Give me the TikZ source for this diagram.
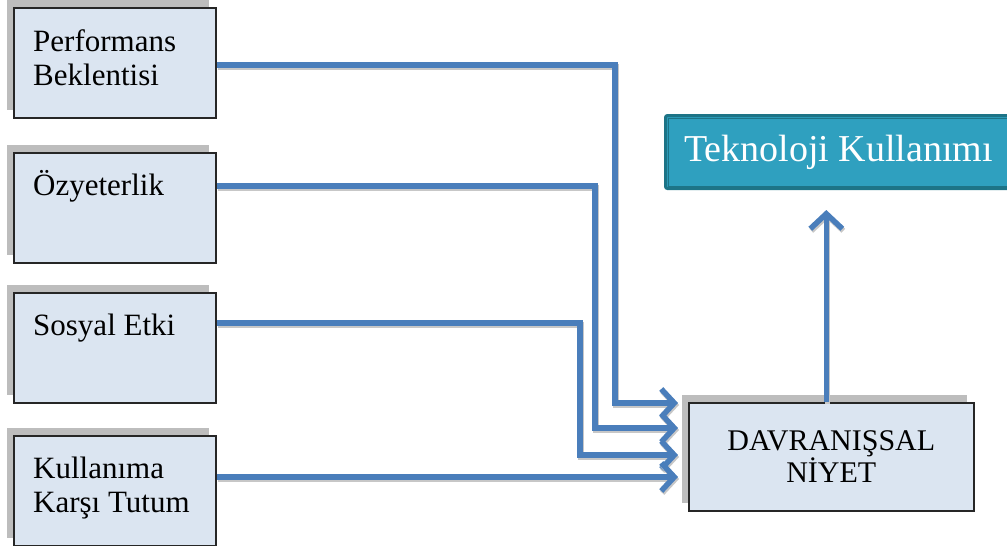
\documentclass[tikz,border=0pt]{standalone}
\usepackage{fontspec}
\setmainfont{Liberation Serif}
\usetikzlibrary{calc,shadows,arrows.meta}
\definecolor{boxfill}{HTML}{DBE5F1}
\definecolor{conncol}{HTML}{4A7EBB}
\definecolor{tealfill}{HTML}{2FA0BF}
\definecolor{tealdark}{HTML}{1D7487}
\definecolor{shadowgray}{HTML}{BDBDBD}
\begin{document}
\begin{tikzpicture}[x=1pt,y=-1pt,
  factor/.style={draw=black!85, line width=1.6pt, fill=boxfill,
    minimum width=202pt, minimum height=110pt, inner sep=0pt, anchor=north west,
    general shadow={fill=shadowgray, shadow xshift=-7pt, shadow yshift=8pt}},
  lbl/.style={anchor=base west, inner sep=0pt, font=\fontsize{31}{34}\selectfont},
  conn/.style={draw=conncol, line width=5.5pt, line join=miter,
    -{Straight Barb[length=13pt,width=28pt]},
    preaction={draw=black!22, line width=5.5pt, transform canvas={xshift=1pt,yshift=-2pt}}},
]
\useasboundingbox (0,0) rectangle (1007,546);
\clip (0,0) rectangle (1007,546);

% left factor boxes
\node[factor] (pb) at (13,7) {};
\node[lbl] (pbt) at ($(pb.north west)+(20,44)$) {\parbox[t]{180pt}{Performans\\Beklentisi}};
\node[factor] (oz) at (13,152) {};
\node[lbl] (ozt) at ($(oz.north west)+(20,43)$) {\parbox[t]{180pt}{Özyeterlik}};
\node[factor] (se) at (13,292) {};
\node[lbl] (set) at ($(se.north west)+(20,43)$) {\parbox[t]{180pt}{Sosyal Etki}};
\node[factor] (kt) at (13,435) {};
\node[lbl] (ktt) at ($(kt.north west)+(20,43)$) {\parbox[t]{180pt}{Kullanıma\\Karşı Tutum}};

% target box
\node[factor, minimum width=285pt, minimum height=108pt, align=center,
  font=\fontsize{30}{32}\selectfont] (dn) at (688,402) {DAVRANIŞSAL\\NİYET};

% outcome box
\node[draw=tealdark, line width=3pt, fill=tealfill, rounded corners=2pt,
  minimum width=346pt, minimum height=73pt, anchor=north west, inner sep=0pt,
  text=white, font=\fontsize{38}{40}\selectfont] (tk) at (664,114) {Teknoloji Kullanımı};
\draw[tealdark, line width=1pt] ($(tk.north west)+(4,4)$) rectangle ($(tk.south east)+(-4,-4)$);

% connector end points
\coordinate (s1) at ($(pb.north east)+(0,58)$);
\coordinate (s2) at ($(oz.north east)+(0,34)$);
\coordinate (s3) at ($(se.north east)+(0,31)$);
\coordinate (s4) at ($(kt.north east)+(0,42)$);
\coordinate (t1) at ($(dn.north west)+(-10,1)$);
\coordinate (t2) at ($(dn.north west)+(-10,26)$);
\coordinate (t3) at ($(dn.north west)+(-10,53)$);
\coordinate (t4) at ($(dn.north west)+(-10,75)$);

\draw[conn] (s1) -| ($(t1)+(-63,0)$) -- (t1);
\draw[conn] (s2) -| ($(t2)+(-83,0)$) -- (t2);
\draw[conn] (s3) -| ($(t3)+(-98,0)$) -- (t3);
\draw[conn] (s4) -- (t4);

\coordinate (u0) at ($(dn.north)+(-5,0)$);
\coordinate (u1) at ($(u0 |- tk.south)+(0,20)$);
\draw[conn, -{Straight Barb[length=15pt,width=32pt]}] (u0) -- (u1);
\end{tikzpicture}
\end{document}
